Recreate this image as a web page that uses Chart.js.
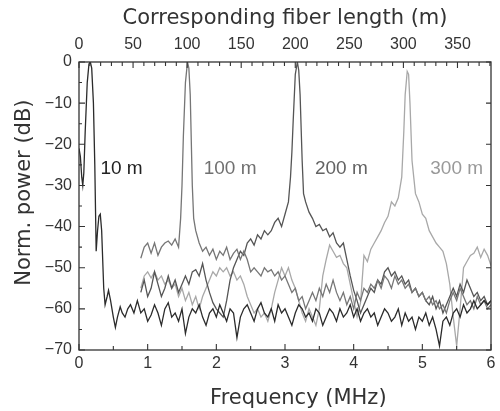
<!DOCTYPE html>
<html>
<head>
<meta charset="utf-8">
<script src="https://cdn.jsdelivr.net/npm/chart.js@4.4.0/dist/chart.umd.min.js"></script>
<style>html,body{margin:0;padding:0;background:#fff}</style>
</head>
<body>
<canvas id="spec" width="500" height="411"></canvas>
<script>
// frequency grid (MHz) shared by the noise floors
const gridFreq = [
  0.90,0.95,1.00,1.05,1.10,1.15,1.20,1.25,1.30,1.35,
  1.40,1.45,1.50,1.55,1.60,1.65,1.70,1.75,1.80,1.85,
  1.90,1.95,2.00,2.05,2.10,2.15,2.20,2.25,2.30,2.35,
  2.40,2.45,2.50,2.55,2.60,2.65,2.70,2.75,2.80,2.85,
  2.90,2.95,3.00,3.05,3.10,3.15,3.20,3.25,3.30,3.35,
  3.40,3.45,3.50,3.55,3.60,3.65,3.70,3.75,3.80,3.85,
  3.90,3.95,4.00,4.05,4.10,4.15,4.20,4.25,4.30,4.35,
  4.40,4.45,4.50,4.55,4.60,4.65,4.70,4.75,4.80,4.85,
  4.90,4.95,5.00,5.05,5.10,5.15,5.20,5.25,5.30,5.35,
  5.40,5.45,5.50,5.55,5.60,5.65,5.70,5.75,5.80,5.85,
  5.90,5.95,6.00
];

// 10 m fiber: main lobe near zero
const headFreq10 = [0,0.02,0.04,0.055,0.07,0.09,0.12,0.145,0.165,0.185,0.21,0.23,0.25,0.27,0.29,0.31,
  0.33,0.36,0.38,0.41,0.43,0.46,0.5,0.53,0.56,0.6,0.63,0.67,0.71,0.75,0.8,0.85];
const headPow10 = [-21,-23,-28,-30,-27,-17,-5,-0.5,0,-1.5,-10,-25,-46,-41,-37.5,-37,
  -41,-55,-59,-57,-55.5,-58,-62,-64.5,-62,-59.5,-61,-62,-60,-59,-61,-58];
const pow10 = [
  -61,-60,-63,-61.5,-59,-61,-64,-60,-58.5,-62,
  -61,-63,-60,-66,-62,-60,-61,-59,-62,-64,
  -61,-60,-62,-59,-61,-63,-60,-61,-67,-62,
  -60,-59,-61,-63,-60,-58.5,-61,-62,-60,-63,
  -59,-61,-60,-62,-64,-61,-59,-60,-62,-61,
  -63,-60,-61,-64,-62,-60,-61,-63,-60,-62,
  -61,-59,-62,-60,-63,-61,-60,-62,-61,-64,
  -62,-60,-61,-63,-62,-60,-64,-61,-63,-62,
  -65,-62,-63,-61,-64,-62,-65,-69,-63,-62,
  -64,-61,-60,-62,-59,-61,-60,-58,-60,-59,
  -58,-59,-58
];

// 100 m fiber
const pow100 = [
  -47.7,-45,-44,-46.5,-44,-47,-45,-44,-43.5,-44.5,
  -43,-45,-30,-5,-1.5,-30,-41,-44,-46,-45,
  -47,-45.5,-48,-46,-47,-45,-48,-46.5,-45.5,-48,
  -46,-48,-51,-50,-51,-52,-50,-51,-50.5,-52,
  -51,-53,-52,-54,-56,-55,-58,-57,-60,-58,
  -56,-58,-55,-57,-54,-56,-53,-56,-58,-56,
  -59,-57,-60,-56,-58,-55,-56,-54,-55,-53,
  -55,-52,-53,-55,-52,-54,-53,-55,-54,-56,
  -55,-57,-56,-58,-57,-59,-58,-60,-59,-61,
  -58,-56,-58,-55,-57,-59,-58,-60,-57,-59,
  -58,-60,-59
];
const peakFreq100 = [1.48,1.52,1.58,1.62,1.67];
const peakPow100 = [-38,-18,0,-8,-38];

// 200 m fiber
const pow200 = [
  -56,-53,-57,-55,-51,-54,-57,-55,-52,-55,
  -53,-56,-54,-52,-54,-51,-50.5,-52,-49,-53,
  -56,-58.5,-60,-61,-62,-58,-53,-50,-48,-46,
  -47,-44,-43,-44.5,-42,-43,-41,-42,-41,-39,
  -38,-40,-37,-34,-22,-3,-2,-24,-34,-36.5,
  -38,-40,-39.5,-41,-40.5,-42.5,-41.5,-44,-45,-44,
  -48,-52,-55.5,-58,-61,-59,-57,-55,-56,-53,
  -54,-51,-50,-52,-51,-53,-52,-54,-53,-56,
  -55,-57,-56,-58,-59,-57,-60,-58,-61,-59,
  -57,-55,-57,-54,-56,-53,-55,-57,-56,-58,
  -57,-59,-58
];
const peakFreq200 = [3.08,3.12,3.18,3.22,3.27];
const peakPow200 = [-28,-14,0,-8,-32];

// 300 m fiber
const pow300 = [
  -55,-52,-51,-52.5,-51,-53,-52,-54,-53,-55,
  -54,-57,-55,-58,-56,-59,-57,-60,-57,-55,
  -53,-51,-52,-50,-51,-50,-52,-51,-53,-52,
  -54,-57,-59,-61,-60,-62,-61,-63,-60,-56,
  -53,-50,-52,-50,-53,-55,-58,-61,-63,-60,
  -62,-64,-60,-52,-48,-44.5,-46,-47.5,-47,-49,
  -50,-54,-58,-62,-58.5,-47,-48.5,-45.5,-44,-42.5,
  -41,-39,-37.5,-34,-35,-33,-28,-8,-3,-24,
  -32,-34,-37,-38,-41,-42.5,-44,-45,-46,-49,
  -54,-62,-69,-60,-50,-48.5,-47,-46.5,-45,-47.5,
  -45.5,-47,-49.5
];
const peakFreq300 = [4.73,4.78,4.82];
const peakPow300 = [-17,-2.3,-10];

const traceNames = ['10 m', '100 m', '200 m', '300 m'];
const lineColors = ['#2b2b2b', '#767676', '#555555', '#a8a8a8'];
const nameColors = ['#222222', '#707070', '#636363', '#999999'];

function toPoints(fs, ps) {
  return fs.map((f, i) => ({ x: f, y: ps[i] }));
}
function merge(a, b) {
  return a.concat(b).sort((p, q) => p.x - q.x);
}

const series = [
  toPoints(headFreq10, headPow10).concat(toPoints(gridFreq, pow10)),
  merge(toPoints(gridFreq, pow100), toPoints(peakFreq100, peakPow100)),
  merge(toPoints(gridFreq, pow200), toPoints(peakFreq200, peakPow200)),
  merge(toPoints(gridFreq, pow300), toPoints(peakFreq300, peakPow300))
];

// inward ticks, frame and the fiber length labels
const frameTicks = {
  id: 'frameTicks',
  afterDraw(chart) {
    const { ctx, chartArea: a, scales } = chart;
    ctx.save();
    ctx.strokeStyle = '#333';
    ctx.lineWidth = 1.3;
    ctx.strokeRect(a.left, a.top, a.right - a.left, a.bottom - a.top);
    ctx.lineWidth = 1.1;
    ctx.beginPath();
    for (let v = 0; v <= 6; v += 0.5) {
      const px = scales.x.getPixelForValue(v);
      const len = Number.isInteger(v) ? 6 : 4;
      ctx.moveTo(px, a.bottom); ctx.lineTo(px, a.bottom - len);
    }
    for (let m = 0; m <= 380; m += 10) {
      const px = scales.xTop.getPixelForValue(m);
      const len = m % 50 === 0 ? 6 : 4;
      ctx.moveTo(px, a.top); ctx.lineTo(px, a.top + len);
    }
    for (let d = -70; d <= 0; d += 5) {
      const py = scales.y.getPixelForValue(d);
      const len = d % 10 === 0 ? 6 : 3;
      ctx.moveTo(a.left, py); ctx.lineTo(a.left + len, py);
      if (d % 10 === 0) { ctx.moveTo(a.right, py); ctx.lineTo(a.right - 5, py); }
    }
    ctx.stroke();

    const spots = [[0.62, -26], [2.2, -26], [3.82, -26], [5.5, -26]];
    ctx.font = '19px "Liberation Sans", Arial, sans-serif';
    ctx.textAlign = 'center';
    ctx.textBaseline = 'middle';
    traceNames.forEach((n, i) => {
      ctx.fillStyle = nameColors[i];
      ctx.fillText(n, scales.x.getPixelForValue(spots[i][0]), scales.y.getPixelForValue(spots[i][1]));
    });
    ctx.restore();
  }
};

const tickFont = { family: '"Liberation Sans Narrow", "Liberation Sans", Arial, sans-serif', size: 16 };
const titleFont = { family: '"DejaVu Sans", sans-serif', size: 21 };
const minus = v => (v < 0 ? '\u2212' + Math.abs(v) : String(v));

new Chart(document.getElementById('spec'), {
  type: 'line',
  data: {
    datasets: series.map((pts, i) => ({
      label: traceNames[i],
      data: pts,
      borderColor: lineColors[i],
      borderWidth: 1.3,
      pointRadius: 0,
      tension: 0,
      fill: false
    }))
  },
  options: {
    responsive: false,
    animation: false,
    devicePixelRatio: 1,
    layout: { padding: { left: 0, right: 9, top: 0, bottom: 0 } },
    plugins: { legend: { display: false }, tooltip: { enabled: false } },
    scales: {
      x: {
        type: 'linear', position: 'bottom', min: 0, max: 6,
        grid: { display: false, drawTicks: false },
        border: { display: false },
        ticks: { stepSize: 1, font: tickFont, color: '#333', padding: 4, maxRotation: 0, autoSkip: false },
        title: { display: true, text: '\u00a0\u00a0\u00a0\u00a0Frequency (MHz)', font: titleFont, color: '#333', padding: { top: 0, bottom: 0 } },
        afterFit(s) { s.height = 61; }
      },
      xTop: {
        type: 'linear', position: 'top', min: 0, max: 381,
        grid: { display: false, drawTicks: false },
        border: { display: false },
        ticks: { stepSize: 50, includeBounds: false, font: tickFont, color: '#333', padding: 8, maxRotation: 0, autoSkip: false },
        title: { display: true, text: 'Corresponding fiber length (m)', font: titleFont, color: '#333', padding: { top: 6, bottom: 0 } },
        afterFit(s) { s.height = 62; }
      },
      y: {
        type: 'linear', position: 'left', min: -70, max: 0,
        grid: { display: false, drawTicks: false },
        border: { display: false },
        ticks: { stepSize: 10, font: tickFont, color: '#333', padding: 7, callback: minus },
        title: { display: true, text: '\u00a0\u00a0\u00a0\u00a0Norm. power (dB)', font: titleFont, color: '#333', padding: { top: 12, bottom: 0 } },
        afterFit(s) { s.width = 79; }
      }
    }
  },
  plugins: [frameTicks]
});
</script>
</body>
</html>
